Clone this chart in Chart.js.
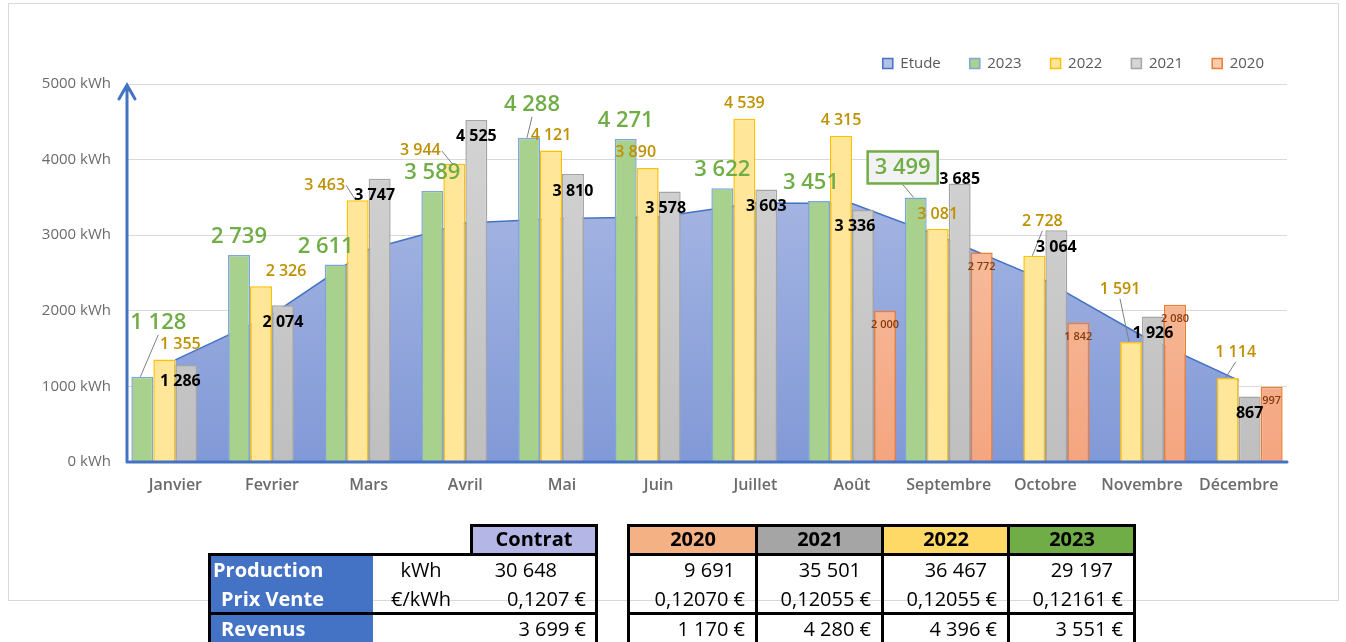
<!DOCTYPE html>
<html lang="fr">
<head>
<meta charset="UTF-8">
<title>Production mensuelle</title>
<script src="https://cdn.jsdelivr.net/npm/chart.js"></script>
<style>
  body { margin: 0; background: #fff; font-family: 'Open Sans', sans-serif; overflow: hidden; }
  #card { position: absolute; left: 8px; top: 3px; width: 1331px; height: 598px; border: 1px solid #D9D9D9; box-sizing: border-box; }
  #chart { position: absolute; left: 8px; top: 3px; }
  .box { position: absolute; box-sizing: border-box; border: 3px solid #000; }
  .txt { position: absolute; font-size: 20px; white-space: nowrap; color: #000; }
</style>
</head>
<body>
<div id="card"></div>
<canvas id="chart" width="1330" height="597"></canvas>
<div id="tables"></div>
<script>
const months = ['Janvier', 'Fevrier', 'Mars', 'Avril', 'Mai', 'Juin', 'Juillet', 'Août', 'Septembre', 'Octobre', 'Novembre', 'Décembre'];
const etude = [1350, 1950, 2810, 3160, 3220, 3240, 3425, 3420, 2940, 2400, 1670, 1080];
const prod2023 = [1128, 2739, 2611, 3589, 4288, 4271, 3622, 3451, 3499, null, null, null];
const prod2022 = [1355, 2326, 3463, 3944, 4121, 3890, 4539, 4315, 3081, 2728, 1591, 1114];
const prod2021 = [1286, 2074, 3747, 4525, 3810, 3578, 3603, 3336, 3685, 3064, 1926, 867];
const prod2020 = [null, null, null, null, null, null, null, 2000, 2772, 1842, 2080, 997];
const yTicks = [0, 1000, 2000, 3000, 4000, 5000];

// tableaux sous le graphique
const contratRows = ['Production', 'Prix Vente', 'Revenus'];
const contratUnits = ['kWh', '€/kWh', ''];
const contratProduction = 30648;
const contratPrix = 0.1207;
const contratRevenus = 3699;
const tableYears = ['2020', '2021', '2022', '2023'];
const tableProduction = [9691, 35501, 36467, 29197];
const tablePrix = [0.12070, 0.12055, 0.12055, 0.12161];
const tableRevenus = [1170, 4280, 4396, 3551];

const fmtInt = v => String(v).replace(/\B(?=(\d{3})+(?!\d))/g, ' ');
const fmtDec = (v, d) => v.toFixed(d).replace('.', ',') + ' €';

// style of the value labels per dataset (index 0 = Etude, no labels)
const labelStyle = [
  null,
  { color: '#70AD47', font: '600 22px "Open Sans"', size: 22, dy: -18 },
  { color: '#BF9000', font: '600 16px "Open Sans"', size: 16, dy: -15 },
  { color: '#000000', font: 'bold 16px "Open Sans"', size: 16, dy: 17 },
  { color: '#843C0C', font: '600 11px "Open Sans"', size: 11, dy: 14 }
];
// labels moved by hand in the original
const labelShift = {
  '1-0': [16, -36], '1-2': [-10, 0], '1-4': [3, -15], '1-7': [-8, 0], '1-8': [-13, -12],
  '2-0': [16, 0], '2-1': [25, 0], '2-2': [-33, 0], '2-3': [-34, 2], '2-5': [-12, 0],
  '2-9': [8, -19], '2-10': [-11, -37], '2-11': [8, -10],
  '3-0': [-6, 0], '3-2': [-5, 0], '3-5': [-4, 0], '3-7': [-8, 0], '3-8': [0, -21]
};
const leaders = ['1-0', '1-4', '1-8', '2-2', '2-3', '2-9', '2-10', '2-11'];
const boxed = ['1-8'];

function vGrad(context, c0, c1) {
  const chart = context.chart;
  const a = chart.chartArea;
  if (!a) return c1;
  const g = chart.ctx.createLinearGradient(0, a.top, 0, a.bottom);
  g.addColorStop(0, c0);
  g.addColorStop(1, c1);
  return g;
}

const legendFit = {
  id: 'legendFit',
  beforeInit(chart) {
    const lg = chart.legend;
    const orig = lg.fit;
    lg.fit = function () { orig.call(this); this.height = 57; };
  },
  afterLayout(chart) {
    chart.legend.left += 6;
    chart.legend.right += 6;
  }
};

const overlay = {
  id: 'overlay',
  afterDatasetsDraw(chart) {
    const ctx = chart.ctx;
    const { left, right, top, bottom } = chart.chartArea;
    ctx.save();
    // axes bleus
    ctx.strokeStyle = '#4472C4';
    ctx.lineWidth = 3;
    ctx.lineCap = 'round';
    ctx.beginPath();
    ctx.moveTo(left, bottom);
    ctx.lineTo(right, bottom);
    ctx.moveTo(left, bottom);
    ctx.lineTo(left, top + 1);
    ctx.moveTo(left - 8, top + 15);
    ctx.lineTo(left, top + 1);
    ctx.lineTo(left + 8, top + 15);
    ctx.stroke();

    // étiquettes
    ctx.textAlign = 'center';
    ctx.textBaseline = 'middle';
    for (let d = 1; d < chart.data.datasets.length; d++) {
      const st = labelStyle[d];
      const meta = chart.getDatasetMeta(d);
      const vals = chart.data.datasets[d].data;
      meta.data.forEach((el, i) => {
        const v = vals[i];
        if (v === null || v === undefined) return;
        const key = d + '-' + i;
        const sh = labelShift[key] || [0, 0];
        const lx = el.x + sh[0];
        const ly = el.y + st.dy + sh[1];
        const txt = fmtInt(v);
        ctx.font = st.font;
        const w = ctx.measureText(txt).width;
        const h = st.size;
        const isBoxed = boxed.includes(key);
        const padX = isBoxed ? 7 : 0, padY = isBoxed ? 5 : 0;
        const bl = lx - w / 2 - padX, br = lx + w / 2 + padX;
        const bt = ly - h / 2 - padY, bb = ly + h / 2 + padY;
        if (leaders.includes(key)) {
          let sx, sy;
          if (el.x > br) { sx = br + 1; sy = ly; }
          else if (el.x < bl) { sx = bl - 1; sy = ly; }
          else { sx = lx; sy = bb + 1; }
          ctx.strokeStyle = '#7F7F7F';
          ctx.lineWidth = 1;
          ctx.lineCap = 'butt';
          ctx.beginPath();
          ctx.moveTo(sx, sy);
          ctx.lineTo(el.x - 2, el.y);
          ctx.stroke();
        }
        if (isBoxed) {
          ctx.fillStyle = '#F2F2F2';
          ctx.fillRect(bl, bt, br - bl, bb - bt);
          ctx.strokeStyle = '#70AD47';
          ctx.lineWidth = 2.5;
          ctx.strokeRect(bl, bt, br - bl, bb - bt);
        }
        ctx.fillStyle = st.color;
        ctx.fillText(txt, lx, ly);
      });
    }
    ctx.restore();
  }
};

const barCommon = { categoryPercentage: 0.91, barPercentage: 1, borderWidth: 1.5, order: 1 };

const chart = new Chart(document.getElementById('chart'), {
  type: 'bar',
  data: {
    labels: months,
    datasets: [
      {
        type: 'line', label: 'Etude', data: etude, order: 5,
        fill: 'origin', tension: 0, pointRadius: 0, borderWidth: 1.5,
        borderColor: '#4472C4',
        backgroundColor: c => vGrad(c, '#B3C0E7', '#8199D7')
      },
      Object.assign({ label: '2023', data: prod2023, backgroundColor: '#A9D18E', borderColor: '#7FA6DC' }, barCommon),
      Object.assign({ label: '2022', data: prod2022, backgroundColor: '#FFE699', borderColor: '#FFC000' }, barCommon),
      Object.assign({ label: '2021', data: prod2021, backgroundColor: c => vGrad(c, '#D6D6D6', '#BFBFBF'), borderColor: '#A5A5A5' }, barCommon),
      Object.assign({ label: '2020', data: prod2020, backgroundColor: c => vGrad(c, '#F9CCB1', '#F4A57F'), borderColor: '#ED7D31' }, barCommon)
    ]
  },
  options: {
    responsive: false,
    animation: false,
    layout: { padding: { left: 0, right: 51, top: 24, bottom: 98 } },
    plugins: {
      legend: {
        position: 'top',
        align: 'end',
        labels: {
          boxWidth: 10, boxHeight: 10, padding: 29,
          color: '#595959',
          font: { family: 'Open Sans', size: 15 },
          sort: (a, b) => a.datasetIndex - b.datasetIndex
        }
      },
      tooltip: { enabled: false }
    },
    scales: {
      x: {
        grid: { display: false },
        border: { display: false },
        ticks: { color: '#6B6B6B', padding: 6, font: { family: 'Open Sans', size: 16, weight: '600' } },
        afterFit: s => { s.height = 40; }
      },
      y: {
        min: 0, max: 5000,
        afterBuildTicks: s => { s.ticks = yTicks.map(v => ({ value: v })); },
        grid: { color: '#D9D9D9', drawTicks: false },
        border: { display: false },
        ticks: { color: '#6B6B6B', padding: 16, font: { family: 'Open Sans', size: 15 }, callback: v => v + ' kWh' },
        afterFit: s => { s.width = 119; }
      }
    }
  },
  plugins: [legendFit, overlay]
});

if (document.fonts) document.fonts.ready.then(() => chart.update());

// ---- tableaux ----
const host = document.getElementById('tables');
function box(l, t, w, h, bg) {
  const d = document.createElement('div');
  d.className = 'box';
  Object.assign(d.style, { left: l + 'px', top: t + 'px', width: w + 'px', height: h + 'px' });
  if (bg) d.style.background = bg;
  host.appendChild(d);
}
function txt(str, cy, opts) {
  const d = document.createElement('div');
  d.className = 'txt';
  d.textContent = str;
  d.style.top = (cy - 14) + 'px';
  d.style.lineHeight = '28px';
  if (opts.bold) d.style.fontWeight = 'bold';
  if (opts.color) d.style.color = opts.color;
  if (opts.left !== undefined) d.style.left = opts.left + 'px';
  if (opts.right !== undefined) { d.style.right = (1346 - opts.right) + 'px'; }
  if (opts.center !== undefined) {
    d.style.left = (opts.center - 100) + 'px';
    d.style.width = '200px';
    d.style.textAlign = 'center';
  }
  host.appendChild(d);
}
const rowY = [570, 599, 629];

// contrat
const blue = document.createElement('div');
Object.assign(blue.style, { position: 'absolute', left: '208px', top: '553px', width: '165px', height: '89px', background: '#4472C4' });
host.appendChild(blue);
box(470, 524, 128, 32, '#B4B7E6');
box(208, 553, 390, 62);
box(208, 612, 390, 40);
txt('Contrat', 539, { bold: true, center: 534 });
contratRows.forEach((r, i) => txt(r, rowY[i], { bold: true, color: '#fff', left: i === 0 ? 213 : 221 }));
contratUnits.forEach((u, i) => { if (u) txt(u, rowY[i], { center: 421 }); });
txt(fmtInt(contratProduction), rowY[0], { right: 557 });
txt(fmtDec(contratPrix, 4), rowY[1], { right: 586 });
txt(fmtInt(contratRevenus) + ' €', rowY[2], { right: 586 });

// années
const edges = [629, 757, 883, 1009, 1135];
const headColors = ['#F4B183', '#A5A5A5', '#FFD966', '#70AD47'];
tableYears.forEach((y, k) => {
  const l = edges[k] - 2, w = edges[k + 1] - edges[k] + 3;
  box(l, 524, w, 32, headColors[k]);
  box(l, 553, w, 62);
  box(l, 612, w, 40);
  txt(y, 539, { bold: true, center: (edges[k] + edges[k + 1]) / 2 });
  txt(fmtInt(tableProduction[k]), rowY[0], { right: edges[k + 1] - 22 });
  txt(fmtDec(tablePrix[k], 5), rowY[1], { right: edges[k + 1] - 12 });
  txt(fmtInt(tableRevenus[k]) + ' €', rowY[2], { right: edges[k + 1] - 12 });
});
</script>
</body>
</html>
